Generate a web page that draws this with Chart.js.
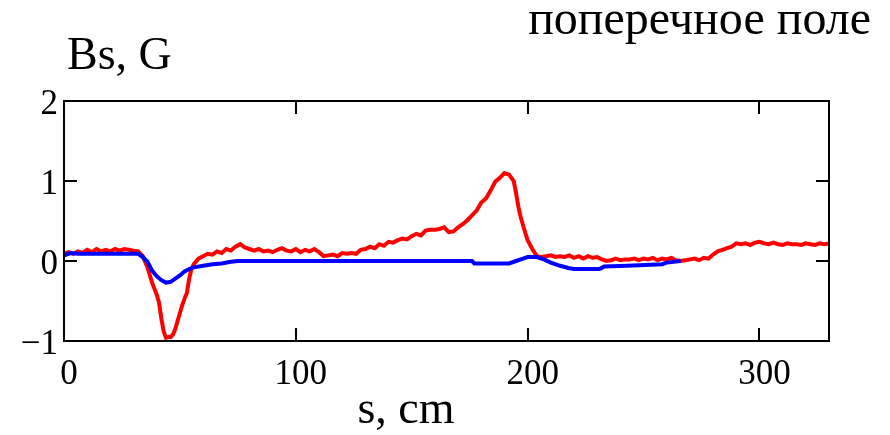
<!DOCTYPE html>
<html>
<head>
<meta charset="utf-8">
<script src="https://cdn.jsdelivr.net/npm/chart.js@4.4.1/dist/chart.umd.min.js"></script>
<style>
  html, body { margin: 0; padding: 0; background: #fff; }
  #wrap { width: 890px; height: 435px; position: relative; }
</style>
</head>
<body>
<div id="wrap"><canvas id="fieldChart" width="890" height="435"></canvas></div>
<script>
// transverse field along the path, measured (red) and computed (blue)
const measuredS = [
  0, 2, 4, 6, 8, 10, 12, 14, 16, 18, 20, 22, 24, 26, 28, 30, 32, 34, 36, 38,
  40, 41, 42, 43, 44, 45, 46, 47, 48, 49, 50, 51, 52, 53, 54, 55, 56, 58, 60, 62,
  64, 66, 68, 70, 72, 74, 76, 78, 80, 82, 84, 86, 88, 90, 92, 94, 96, 98, 100, 102,
  104, 106, 108, 110, 112, 114, 116, 118, 120, 122, 124, 126, 128, 130, 132, 134, 136, 138, 140, 142,
  144, 146, 148, 150, 152, 154, 156, 158, 160, 162, 164, 166, 168, 170, 172, 174, 176, 178, 180, 182,
  184, 186, 188, 190, 192, 194, 195, 196, 197, 198, 199, 200, 202, 204, 206, 208, 210, 212, 214, 216,
  218, 220, 222, 224, 226, 228, 230, 232, 234, 236, 238, 240, 242, 244, 246, 248, 250, 252, 254, 256,
  258, 260, 262, 264, 266, 268, 270, 272, 274, 276, 278, 280, 282, 284, 286, 288, 290, 292, 294, 296,
  298, 300, 302, 304, 306, 308, 310, 312, 314, 316, 318, 320, 322, 324, 326, 328, 330
];
const measuredB = [
  0.09, 0.11, 0.09, 0.12, 0.10, 0.14, 0.11, 0.15, 0.12, 0.14, 0.12, 0.15, 0.13, 0.15, 0.14, 0.13, 0.12, 0.06, -0.08, -0.27,
  -0.42, -0.52, -0.72, -0.88, -0.96, -0.95, -0.95, -0.92, -0.85, -0.75, -0.65, -0.55, -0.47, -0.40, -0.22, -0.10, -0.04, 0.03, 0.06, 0.09,
  0.08, 0.12, 0.10, 0.15, 0.13, 0.18, 0.21, 0.17, 0.15, 0.13, 0.15, 0.12, 0.13, 0.11, 0.14, 0.16, 0.13, 0.12, 0.15, 0.11,
  0.14, 0.12, 0.15, 0.11, 0.06, 0.07, 0.08, 0.06, 0.10, 0.09, 0.10, 0.09, 0.14, 0.15, 0.18, 0.16, 0.21, 0.19, 0.24, 0.23,
  0.26, 0.28, 0.27, 0.31, 0.34, 0.32, 0.38, 0.39, 0.39, 0.40, 0.42, 0.36, 0.37, 0.42, 0.46, 0.51, 0.57, 0.63, 0.73, 0.78,
  0.88, 0.99, 1.04, 1.10, 1.08, 1.00, 0.85, 0.68, 0.55, 0.45, 0.35, 0.26, 0.15, 0.06, 0.05, 0.06, 0.07, 0.05, 0.06, 0.05,
  0.07, 0.04, 0.06, 0.03, 0.06, 0.04, 0.05, 0.02, 0.00, 0.01, 0.03, 0.01, 0.02, 0.02, 0.03, 0.01, 0.03, 0.02, 0.04, 0.01,
  0.03, 0.02, 0.04, 0.01, 0.00, 0.01, 0.02, 0.03, 0.01, 0.04, 0.03, 0.08, 0.12, 0.14, 0.16, 0.18, 0.22, 0.21, 0.22, 0.20,
  0.23, 0.24, 0.22, 0.21, 0.23, 0.21, 0.20, 0.22, 0.21, 0.21, 0.20, 0.22, 0.21, 0.20, 0.22, 0.21, 0.22
];

const modelS = [
  0, 3, 6, 30, 32, 34, 36, 38, 40, 42, 44, 46, 48, 50, 52, 54, 56, 60, 64, 68,
  72, 75, 176, 177, 192, 195, 198, 200, 204, 207, 210, 214, 218, 220, 231, 233, 243, 258, 260, 266
];
const modelB = [
  0.07, 0.10, 0.09, 0.09, 0.09, 0.05, -0.01, -0.12, -0.19, -0.24, -0.27, -0.26, -0.22, -0.18, -0.13, -0.10, -0.08, -0.06, -0.04, -0.03,
  -0.01, 0.00, 0.00, -0.03, -0.03, 0.00, 0.03, 0.05, 0.05, 0.02, -0.02, -0.06, -0.09, -0.10, -0.10, -0.07, -0.06, -0.04, -0.02, 0.00
];

const xTicks = [0, 100, 200, 300];
const yTicks = [-1, 0, 1, 2];
const xMin = 0, xMax = 330;
const yMin = -1, yMax = 2;

const SERIF = '"Liberation Serif", "DejaVu Serif", serif';

function toPoints(xs, ys) {
  return xs.map((x, i) => ({ x, y: ys[i] }));
}

// box around the plot with short inward tick marks on every side, plus captions
const framePlugin = {
  id: 'frame',
  afterDraw(chart) {
    const { ctx, chartArea: a, scales } = chart;
    const len = 13;
    ctx.save();
    ctx.strokeStyle = '#000';
    ctx.lineWidth = 2;
    ctx.strokeRect(a.left, a.top, a.right - a.left, a.bottom - a.top);
    ctx.beginPath();
    xTicks.forEach((v) => {
      const px = Math.round(scales.x.getPixelForValue(v));
      ctx.moveTo(px, a.bottom);
      ctx.lineTo(px, a.bottom - len);
      ctx.moveTo(px, a.top);
      ctx.lineTo(px, a.top + len);
    });
    yTicks.forEach((v) => {
      const py = Math.round(scales.y.getPixelForValue(v));
      ctx.moveTo(a.left, py);
      ctx.lineTo(a.left + len, py);
      ctx.moveTo(a.right, py);
      ctx.lineTo(a.right - len, py);
    });
    ctx.stroke();

    ctx.fillStyle = '#000';
    ctx.textBaseline = 'alphabetic';
    ctx.font = `46px ${SERIF}`;
    ctx.textAlign = 'left';
    ctx.fillText('Bs, G', 67, 69);
    ctx.textAlign = 'center';
    ctx.fillText('s, cm', 406, 423);
    ctx.font = `48px ${SERIF}`;
    ctx.textAlign = 'right';
    ctx.fillText('поперечное поле', 871, 34);
    ctx.restore();
  },
};

const chart = new Chart(document.getElementById('fieldChart'), {
  type: 'line',
  data: {
    datasets: [
      {
        label: 'model',
        data: toPoints(modelS, modelB),
        borderColor: '#0000ff',
        borderWidth: 4,
        pointRadius: 0,
        tension: 0,
        order: 1,
      },
      {
        label: 'measured',
        data: toPoints(measuredS, measuredB),
        borderColor: '#ff0000',
        borderWidth: 4,
        pointRadius: 0,
        tension: 0,
        order: 2,
      },
    ],
  },
  options: {
    responsive: false,
    animation: false,
    events: [],
    layout: {
      padding: { left: 0, top: 101, right: 61, bottom: 0 },
    },
    plugins: {
      legend: { display: false },
      tooltip: { enabled: false },
    },
    scales: {
      x: {
        type: 'linear',
        min: xMin,
        max: xMax,
        afterBuildTicks(scale) {
          scale.ticks = xTicks.map((v) => ({ value: v }));
        },
        afterFit(scale) {
          scale.height = 94;
        },
        grid: { display: false, drawTicks: false },
        border: { display: false },
        ticks: {
          color: '#000',
          font: { family: SERIF, size: 35, lineHeight: 1 },
          padding: 16,
          labelOffset: 5,
          maxRotation: 0,
          autoSkip: false,
        },
      },
      y: {
        type: 'linear',
        min: yMin,
        max: yMax,
        afterBuildTicks(scale) {
          scale.ticks = yTicks.map((v) => ({ value: v }));
        },
        afterFit(scale) {
          scale.width = 64;
        },
        grid: { display: false, drawTicks: false },
        border: { display: false },
        ticks: {
          color: '#000',
          font: { family: SERIF, size: 35, lineHeight: 1 },
          padding: 6,
          labelOffset: 4,
          callback: (v) => (v < 0 ? '\u2212' + Math.abs(v) : String(v)),
        },
      },
    },
  },
  plugins: [framePlugin],
});
</script>
</body>
</html>
